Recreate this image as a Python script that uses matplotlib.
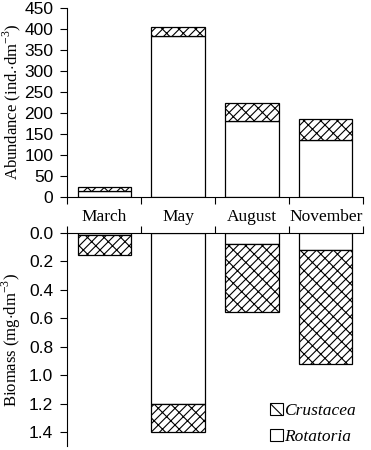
import matplotlib.pyplot as plt
from matplotlib.patches import Patch
import numpy as np

plt.rcParams['font.family'] = ['Liberation Serif', 'DejaVu Serif']
plt.rcParams['mathtext.fontset'] = 'custom'
plt.rcParams['mathtext.rm'] = 'Liberation Serif'
plt.rcParams['hatch.linewidth'] = 0.8

months = ['March', 'May', 'August', 'November']
abund_rotatoria = [13, 382, 181, 136]
abund_crustacea = [9, 21, 41, 48]
biom_rotatoria = [0.016, 1.20, 0.08, 0.122]
biom_crustacea = [0.14, 0.20, 0.48, 0.80]

FS = 12.5
TFS = 12.5
x = np.arange(len(months))
w = 0.72
hatch = '////\\\\'

fig = plt.figure(figsize=(3.71, 4.5), dpi=100)
ax1 = fig.add_axes([0.181, 0.563, 0.797, 0.42])
ax2 = fig.add_axes([0.181, 0.008, 0.797, 0.475])

# abundance (upper panel)
ax1.bar(x, abund_rotatoria, w, color='white', edgecolor='black', lw=0.9)
ax1.bar(x, abund_crustacea, w, bottom=abund_rotatoria, color='white',
        edgecolor='black', lw=0.9, hatch=hatch)
ax1.set_xlim(-0.5, 3.5)
ax1.set_ylim(0, 450)
ax1.set_yticks(range(0, 451, 50))
ax1.set_xticks(np.arange(-0.5, 4, 1))
ax1.set_xticklabels([])
ax1.set_xticks(x, minor=True)
ax1.set_xticklabels(months, minor=True, fontsize=FS)
ax1.tick_params(axis='x', which='minor', length=0, pad=9)
ax1.tick_params(axis='x', which='major', length=5, direction='out')
ax1.tick_params(axis='y', labelsize=TFS, length=5, pad=5)
for lab in ax1.get_yticklabels():
    lab.set_family('Liberation Sans')
ax1.set_ylabel('Abundance (ind.$\\cdot$dm$^{-3}$)', fontsize=12)
ax1.yaxis.set_label_coords(-0.148, 0.5)
for s in ['top', 'right']:
    ax1.spines[s].set_visible(False)

# biomass (lower panel, inverted)
ax2.bar(x, biom_rotatoria, w, color='white', edgecolor='black', lw=0.9)
ax2.bar(x, biom_crustacea, w, bottom=biom_rotatoria, color='white',
        edgecolor='black', lw=0.9, hatch=hatch)
ax2.set_xlim(-0.5, 3.5)
ax2.set_ylim(1.5, 0)
ax2.set_yticks(np.arange(0, 1.41, 0.2))
ax2.set_yticklabels([f'{v:.1f}' for v in np.arange(0, 1.41, 0.2)], family='Liberation Sans')
ax2.xaxis.tick_top()
ax2.set_xticks(np.arange(-0.5, 4, 1))
ax2.set_xticklabels([])
ax2.tick_params(axis='x', length=5, direction='out')
ax2.tick_params(axis='y', labelsize=TFS, length=5, pad=5)
ax2.set_ylabel('Biomass (mg$\\cdot$dm$^{-3}$)', fontsize=12)
ax2.yaxis.set_label_coords(-0.148, 0.5)
for s in ['bottom', 'right']:
    ax2.spines[s].set_visible(False)

handles = [Patch(facecolor='white', edgecolor='black', hatch='x', lw=0.8, label='Crustacea'),
           Patch(facecolor='white', edgecolor='black', lw=0.8, label='Rotatoria')]
ax2.legend(handles=handles, loc='lower right', bbox_to_anchor=(1.03, -0.068), frameon=False,
           prop={'style': 'italic', 'size': FS}, handlelength=0.7, handleheight=0.7,
           handletextpad=0.1, labelspacing=0.6)

fig.savefig('out.png', dpi=100)
